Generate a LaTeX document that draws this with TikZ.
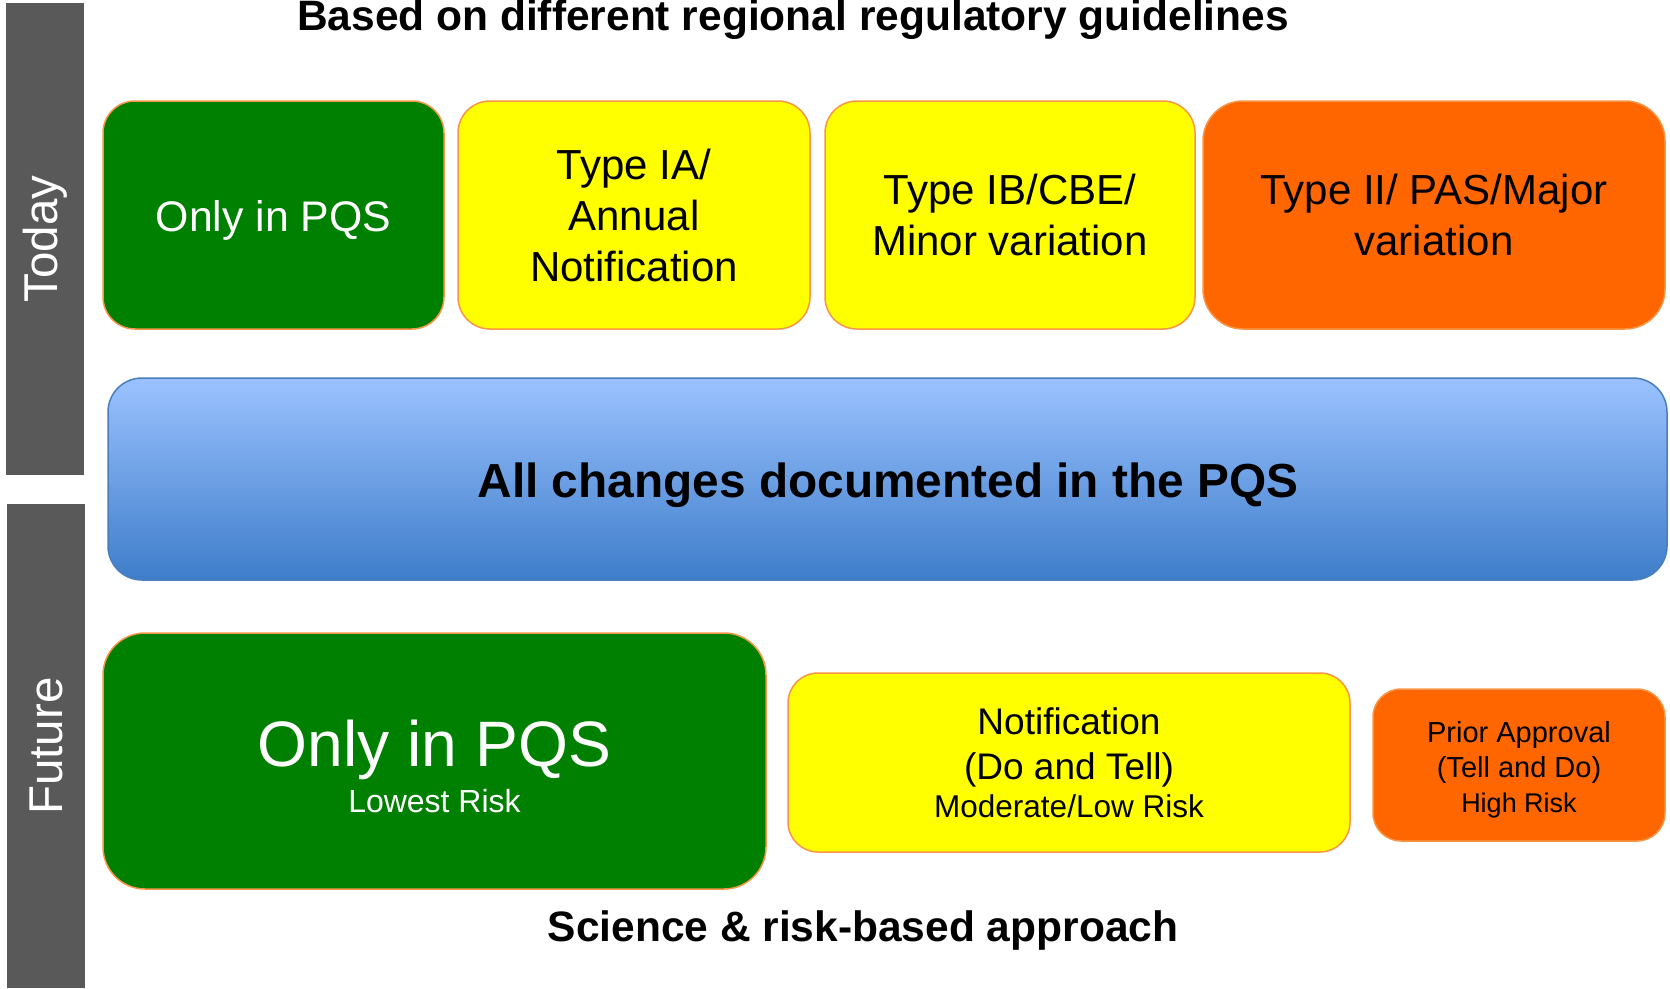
\documentclass[tikz,border=0pt]{standalone}
\usepackage{fontspec}
\setmainfont{Liberation Sans}
\definecolor{pgreen}{RGB}{0,128,0}
\definecolor{pyellow}{RGB}{255,255,0}
\definecolor{porange}{RGB}{255,102,0}
\definecolor{pline}{RGB}{247,150,70}
\definecolor{pgray}{RGB}{89,89,89}
\definecolor{btop}{RGB}{155,194,255}
\definecolor{bbot}{RGB}{62,125,202}
\definecolor{bline}{RGB}{74,126,187}
\begin{document}
\begin{tikzpicture}[x=1pt,y=-1pt,
  box/.style={draw=pline, line width=1.5pt, inner sep=0pt, align=center},
  greenbox/.style={box, fill=pgreen, text=white},
  yellowbox/.style={box, fill=pyellow, text=black},
  orangebox/.style={box, fill=porange, text=black},
  bar/.style={fill=pgray, text=white, inner sep=0pt, rotate=90,
    font=\fontsize{47.5}{50}\selectfont},
  title/.style={font=\fontsize{42.5}{48}\selectfont\bfseries, anchor=base}]
\useasboundingbox (0,0) rectangle (1670,988);
% side bars
\node[bar, minimum width=472pt, minimum height=78pt] (today) at (45,239) {Today};
\node[bar, minimum width=484pt, minimum height=78pt] (future) at (46,746) {Future};
% title
\node[title] (ttl) at (793,30) {Based on different regional regulatory guidelines};
% top row
\node[greenbox, rounded corners=32pt, minimum width=341pt, minimum height=228pt] (t1) at (273.5,215) {};
\node[text=white, font=\fontsize{42.8}{51}\selectfont] (t1t) at (273.5,220.5) {Only in PQS};
\node[yellowbox, rounded corners=32pt, minimum width=352pt, minimum height=228pt,
  font=\fontsize{42}{51}\selectfont] (t2) at (634,215) {Type IA/\\Annual\\Notification};
\node[yellowbox, rounded corners=32pt, minimum width=370pt, minimum height=228pt,
  font=\fontsize{42}{51}\selectfont] (t3) at (1010,215) {Type IB/CBE/\\Minor variation};
\node[orangebox, rounded corners=40pt, minimum width=462pt, minimum height=228pt,
  font=\fontsize{42}{51}\selectfont] (t4) at (1434,215) {Type II/ PAS/Major\\variation};
% blue bar
\node[draw=bline, line width=1.5pt, rounded corners=34pt, top color=btop, bottom color=bbot,
  minimum width=1559pt, minimum height=202pt, inner sep=0pt] (pqs) at (887.5,479) {};
\node[title, font=\fontsize{47.8}{52}\selectfont\bfseries] (pqst) at (888,497) {All changes documented in the PQS};
% bottom row
\node[greenbox, rounded corners=42pt, minimum width=663pt, minimum height=256pt] (b1) at (434.5,761) {};
\node[text=white, align=center, inner sep=0pt, font=\fontsize{32}{46}\selectfont] (b1t) at (434.5,766.5)
  {{\fontsize{64.2}{64}\selectfont Only in PQS}\\Lowest Risk};
\node[yellowbox, rounded corners=30pt, minimum width=562pt, minimum height=179pt,
  font=\fontsize{37}{45}\selectfont] (b2) at (1069,762.5)
  {Notification\\(Do and Tell)\\[-7pt]{\fontsize{31.5}{36}\selectfont Moderate/Low Risk}};
\node[orangebox, rounded corners=28pt, minimum width=292pt, minimum height=152pt] (b3) at (1519,765) {};
\node[align=center, inner sep=0pt, font=\fontsize{29}{35}\selectfont] (b3t) at (1519,770)
  {Prior Approval\\(Tell and Do)\\{\fontsize{27}{32}\selectfont High Risk}};
\node[title] (sci) at (863,941) {Science \& risk-based approach};
\end{tikzpicture}
\end{document}
